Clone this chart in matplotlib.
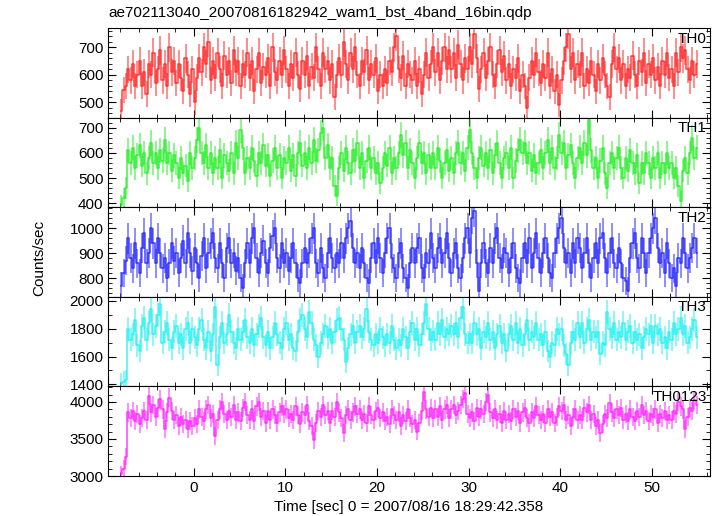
import numpy as np
import matplotlib
matplotlib.use('Agg')
import matplotlib.pyplot as plt
from matplotlib.ticker import MultipleLocator

plt.rcParams['font.family'] = ['Liberation Sans', 'DejaVu Sans']

# bin start time and width (sec)
t_start = -8.0
bin_width = 0.25

th0 = [470, 545, 560, 620, 580, 640, 560, 600,
       650, 560, 610, 530, 640, 600, 680, 570,
       620, 690, 580, 640, 560, 700, 610, 650,
       570, 640, 590, 540, 660, 600, 530, 620,
       500, 590, 660, 610, 700, 640, 720, 580,
       650, 590, 680, 620, 560, 670, 600, 650,
       570, 690, 610, 650, 560, 640, 600, 680,
       590, 650, 540, 620, 680, 570, 630, 600,
       660, 560, 700, 610, 580, 650, 600, 690,
       620, 560, 640, 590, 680, 600, 550, 650,
       600, 670, 560, 630, 590, 700, 620, 560,
       680, 620, 650, 580, 640, 520, 600, 660,
       600, 720, 640, 580, 680, 620, 700, 600,
       560, 650, 610, 690, 580, 640, 600, 660,
       540, 600, 560, 620, 570, 650, 610, 700,
       740, 620, 590, 670, 560, 640, 600, 580,
       650, 560, 620, 530, 600, 680, 590, 640,
       700, 610, 680, 580, 650, 700, 620, 690,
       620, 680, 590, 710, 640, 580, 660, 620,
       700, 640, 750, 660, 550, 620, 680, 590,
       650, 700, 600, 560, 640, 690, 610, 670,
       580, 640, 560, 620, 590, 660, 540, 600,
       560, 480, 590, 650, 600, 680, 610, 570,
       640, 590, 680, 560, 620, 540, 600, 490,
       580, 650, 700, 750, 620, 680, 580, 640,
       600, 680, 560, 620, 570, 650, 600, 540,
       640, 580, 660, 600, 560, 520, 640, 700,
       620, 660, 580, 640, 560, 620, 590, 670,
       600, 560, 650, 610, 680, 570, 640, 600,
       660, 580, 630, 560, 650, 600, 680, 590,
       620, 560, 680, 610, 700, 660, 690, 620,
       580, 650, 600, 640]

th1 = [395, 420, 460, 610, 560, 620, 540, 590,
       630, 550, 600, 520, 580, 640, 560, 600,
       540, 610, 570, 650, 560, 600, 530, 590,
       560, 500, 580, 520, 550, 490, 600, 540,
       580, 650, 700, 600, 560, 630, 540, 600,
       520, 580, 540, 610, 500, 590, 560, 530,
       600, 520, 640, 580, 690, 620, 520, 580,
       540, 620, 570, 510, 600, 560, 630, 550,
       590, 510, 570, 620, 540, 590, 500, 580,
       560, 620, 530, 590, 510, 600, 640, 550,
       600, 540, 620, 560, 650, 570, 610, 680,
       700, 580, 630, 540, 580, 470, 430, 540,
       600, 530, 620, 560, 520, 610, 570, 640,
       540, 600, 500, 570, 620, 540, 580, 520,
       560, 480, 540, 600, 550, 620, 520, 580,
       540, 600, 670, 590, 640, 540, 610, 560,
       500, 580, 640, 560, 600, 520, 590, 540,
       600, 540, 620, 570, 500, 560, 610, 530,
       580, 520, 600, 640, 560, 600, 530, 620,
       690, 600, 540, 500, 580, 620, 550, 600,
       540, 610, 520, 590, 640, 560, 500, 580,
       600, 540, 620, 500, 570, 610, 650, 600,
       640, 560, 600, 530, 590, 520, 560, 610,
       540, 600, 650, 560, 620, 540, 580, 670,
       600, 640, 540, 590, 630, 560, 500, 580,
       620, 560, 640, 590, 730, 610, 540, 580,
       500, 570, 620, 520, 460, 560, 600, 540,
       580, 620, 540, 500, 580, 530, 610, 560,
       520, 590, 480, 560, 520, 600, 560, 500,
       580, 540, 600, 500, 560, 520, 600, 540,
       560, 500, 540, 470, 410, 530, 580, 520,
       600, 660, 580, 620]

th2 = [770, 820, 870, 960, 880, 840, 940, 860,
       820, 920, 980, 860, 900, 1000, 940, 860,
       960, 900, 840, 880, 800, 860, 940, 870,
       900, 820, 880, 950, 860, 980, 900, 830,
       920, 860, 800, 890, 960, 840, 900, 940,
       980, 880, 840, 940, 860, 800, 920, 960,
       860, 900, 830, 880, 800, 760, 860, 940,
       860, 960, 1000, 880, 820, 900, 950, 860,
       820, 920, 970, 1000, 880, 840, 940, 860,
       900, 830, 880, 940, 860, 800, 780, 860,
       920, 860, 900, 960, 1000, 860, 820, 920,
       840, 800, 900, 960, 880, 840, 900, 860,
       940, 880, 960, 1000, 1030, 920, 860, 900,
       840, 920, 860, 800, 780, 880, 940, 860,
       960, 880, 820, 900, 960, 1000, 880, 840,
       800, 900, 940, 840, 800, 760, 860, 920,
       860, 920, 960, 840, 800, 900, 860, 980,
       880, 840, 920, 960, 860, 900, 980, 880,
       820, 900, 940, 840, 800, 880, 960, 1000,
       900, 1040, 1070, 860, 750, 860, 940, 860,
       820, 920, 860, 960, 1000, 880, 840, 920,
       900, 820, 880, 940, 840, 800, 780, 880,
       940, 860, 960, 840, 900, 980, 880, 820,
       900, 960, 880, 820, 800, 900, 960, 1000,
       1040, 920, 860, 900, 820, 940, 860, 960,
       920, 840, 900, 960, 860, 800, 880, 940,
       860, 960, 980, 880, 820, 900, 960, 860,
       840, 920, 860, 800, 790, 750, 880, 940,
       980, 880, 840, 960, 900, 820, 900, 960,
       1000, 1040, 920, 860, 900, 820, 940, 860,
       800, 840, 770, 880, 860, 960, 900, 840,
       880, 920, 960, 900]

th3 = [1405, 1420, 1430, 1800, 1720, 1760, 1860, 1680,
       1640, 1820, 1880, 1720, 1840, 1940, 1760, 1820,
       1900, 1980, 1700, 1780, 1840, 1720, 1660, 1780,
       1820, 1700, 1760, 1660, 1800, 1840, 1700, 1800,
       1740, 1680, 1800, 1860, 1720, 1660, 1780, 1640,
       1760, 1960, 1540, 1740, 1840, 1700, 1760, 1900,
       1780, 1700, 1660, 1800, 1720, 1780, 1860, 1740,
       1700, 1800, 1680, 1760, 1820, 1880, 1740, 1680,
       1780, 1660, 1740, 1840, 1760, 1700, 1660, 1800,
       1840, 1720, 1760, 1660, 1640, 1780, 1860, 1900,
       1800, 1740, 1920, 1840, 1720, 1680, 1600, 1700,
       1760, 1820, 1740, 1800, 1700, 1780, 1860, 1880,
       1800, 1720, 1560, 1660, 1760, 1820, 1700, 1780,
       1820, 1740, 1800, 1940, 1780, 1720, 1680, 1760,
       1700, 1800, 1740, 1680, 1760, 1700, 1820, 1720,
       1660, 1720, 1680, 1800, 1740, 1660, 1780, 1840,
       1720, 1800, 1680, 1760, 1840, 1980, 1800, 1720,
       1780, 1720, 1840, 1760, 1860, 1740, 1800, 1760,
       1820, 1760, 1840, 1740, 1880, 1960, 1760, 1700,
       1760, 1700, 1840, 1760, 1800, 1660, 1780, 1740,
       1840, 1720, 1780, 1660, 1760, 1820, 1700, 1760,
       1640, 1760, 1820, 1720, 1840, 1700, 1800, 1680,
       1760, 1860, 1720, 1780, 1740, 1840, 1720, 1760,
       1680, 1780, 1640, 1600, 1700, 1680, 1800, 1760,
       1800, 1680, 1620, 1540, 1700, 1780, 1720, 1840,
       1740, 1840, 1700, 1800, 1860, 1720, 1780, 1740,
       1780, 1620, 1700, 1680, 1920, 1800, 1740, 1840,
       1720, 1780, 1740, 1840, 1720, 1780, 1820, 1700,
       1780, 1720, 1760, 1660, 1740, 1800, 1760, 1820,
       1700, 1820, 1760, 1800, 1700, 1740, 1660, 1780,
       1720, 1840, 1760, 1800, 1880, 1760, 1820, 1700,
       1740, 1800, 1860, 1740]

th0123 = [3030, 3100, 3260, 3860, 3780, 3880, 3740, 3840,
          3700, 3780, 3880, 3760, 4080, 3860, 3960, 3800,
          3920, 4040, 3900, 3640, 3860, 4060, 3880, 3760,
          3820, 3680, 3800, 3700, 3760, 3640, 3740, 3680,
          3780, 3700, 3900, 3800, 3740, 3900, 3960, 3780,
          3840, 3540, 3760, 3900, 4000, 3840, 3760, 3880,
          3800, 3960, 3760, 3860, 3740, 3920, 4000, 3820,
          3760, 3900, 3740, 3940, 4000, 3800, 3880, 3720,
          3880, 3760, 3900, 3820, 3720, 3860, 3940, 3840,
          3900, 3780, 3840, 3760, 3940, 3820, 3700, 3860,
          3820, 3960, 3740, 3680, 3480, 3720, 3880, 3800,
          3960, 3820, 3880, 3720, 3880, 3800, 4000, 3860,
          3780, 3580, 3820, 3900, 3760, 3860, 3940, 3840,
          3900, 3760, 3840, 3720, 3940, 3820, 3760, 3880,
          3920, 3780, 3860, 3740, 3800, 3700, 3900, 3820,
          3760, 3860, 3680, 3820, 3740, 3900, 3780, 3700,
          3760, 3600, 3720, 3880, 4140, 3900, 3800, 3920,
          3780, 3900, 3800, 3940, 3760, 3900, 3960, 3780,
          3900, 3960, 3820, 3880, 3960, 4040, 4120, 3840,
          3780, 3860, 3740, 3920, 3800, 3900, 3840, 4000,
          4100, 3860, 3780, 3900, 3760, 3840, 3720, 3880,
          3760, 3840, 3740, 3900, 3800, 3880, 3720, 3860,
          3920, 3780, 3720, 3860, 3780, 3940, 3820, 3760,
          3840, 3720, 3900, 3800, 3860, 3720, 3800, 3940,
          3880, 3960, 3760, 3820, 3680, 3800, 3900, 3760,
          3820, 3760, 3920, 3860, 3960, 3760, 3840, 3680,
          3760, 3580, 3700, 3840, 3780, 3980, 3860, 3780,
          3900, 3820, 3920, 3760, 3840, 3740, 3900, 3800,
          3740, 3880, 3800, 3960, 3820, 3880, 3740, 3840,
          3800, 3900, 3720, 3840, 3780, 3880, 3760, 3820,
          3760, 3880, 3840, 4000, 3940, 3900, 3640, 3800,
          3920, 3880, 4020, 3960]

names = ['TH0', 'TH1', 'TH2', 'TH3', 'TH0123']
colors = ['#ff2020', '#20ee20', '#2020ff', '#20f0f0', '#ff20ff']
ylims = [(445, 770), (385, 740), (725, 1085), (1385, 2030), (3000, 4210)]
ymajor = [100, 100, 100, 200, 500]
yminor = [20, 20, 20, 100, 100]

series = [th0, th1, th2, th3, th0123]

fig = plt.figure(figsize=(7.17, 5.16), dpi=100)
gs = fig.add_gridspec(5, 1, left=0.151, right=0.990, top=0.9457, bottom=0.0775, hspace=0)

for k in range(5):
    ax = fig.add_subplot(gs[k])
    y = np.array(series[k], dtype=float)
    t = t_start + bin_width * (np.arange(len(y)) + 0.5)
    err = np.sqrt(y / bin_width)
    ax.errorbar(t, y, yerr=err, fmt='none', ecolor=colors[k], alpha=0.55, elinewidth=1.3)
    ax.step(t, y, where='mid', color=colors[k], alpha=0.85, lw=1.1)
    ax.set_xlim(-9.3, 56.3)
    ax.set_ylim(*ylims[k])
    ax.xaxis.set_major_locator(MultipleLocator(10))
    ax.xaxis.set_minor_locator(MultipleLocator(2))
    ax.yaxis.set_major_locator(MultipleLocator(ymajor[k]))
    ax.yaxis.set_minor_locator(MultipleLocator(yminor[k]))
    ax.tick_params(which='both', direction='in', top=True, right=True, labelsize=11)
    ax.tick_params(which='major', length=6)
    ax.tick_params(which='minor', length=3)
    ax.text(0.995, 0.96, names[k], transform=ax.transAxes, ha='right', va='top', fontsize=11)
    if k < 4:
        ax.tick_params(labelbottom=False)
    else:
        ax.set_xlabel('Time [sec] 0 = 2007/08/16 18:29:42.358', fontsize=11, labelpad=4)

fig.text(0.151, 0.975, 'ae702113040_20070816182942_wam1_bst_4band_16bin.qdp', fontsize=11, ha='left', va='center')
fig.text(0.055, 0.5, 'Counts/sec', rotation=90, fontsize=11, ha='center', va='center')

plt.savefig('out.png', dpi=100)
